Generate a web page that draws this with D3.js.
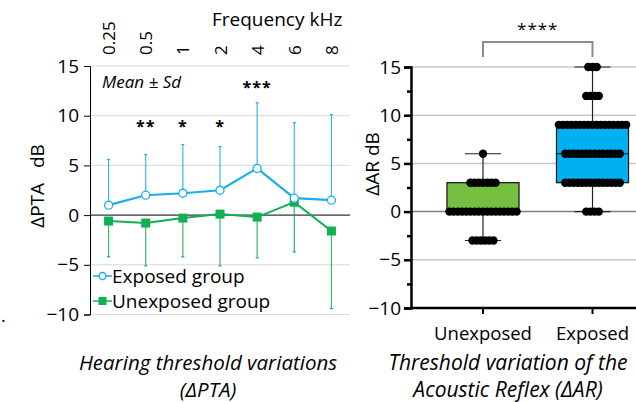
<!DOCTYPE html>
<html>
<head>
<meta charset="utf-8">
<script src="https://cdn.jsdelivr.net/npm/d3@7"></script>
<style>
  body { margin: 0; background: #fff; }
  text { font-family: "Open Sans", sans-serif; fill: #000; }
</style>
</head>
<body>
<div id="chart"></div>
<script>
// Data
var freqs = ["0.25", "0.5", "1", "2", "4", "6", "8"];
var exposedMean = [1.0, 2.0, 2.2, 2.5, 4.7, 1.7, 1.5];
var exposedSd = [4.6, 4.1, 4.9, 4.4, 6.6, 7.6, 8.6];
var unexposedMean = [-0.6, -0.8, -0.3, 0.1, -0.2, 1.3, -1.6];
var unexposedSd = [3.6, 4.3, 3.9, 5.2, 4.1, 5.0, 7.8];
var signif = ["", "**", "*", "*", "***", "", ""];

var groups = ["Unexposed", "Exposed"];
// box stats: [min, q1, median, q3, max]
var boxStats = [[-3, 0, 0, 3, 6], [0, 3, 6, 9, 15]];
// individual AR values (dB)
var unexposedAR = [6, 3, 3, 3, 3, 3, 3, 3,
  0, 0, 0, 0, 0, 0, 0, 0, 0, 0, 0, 0, 0, 0, 0, 0, 0,
  -3, -3, -3, -3, -3, -3];
var exposedAR = [15, 15, 15, 12, 12, 12, 12,
  9, 9, 9, 9, 9, 9, 9, 9, 9, 9, 9, 9, 9, 9, 9, 9, 9,
  6, 6, 6, 6, 6, 6, 6, 6, 6, 6, 6, 6, 6, 6,
  3, 3, 3, 3, 3, 3, 3, 3, 3, 3, 3, 3, 3, 3,
  0, 0, 0, 0];
var yTicks = [-10, -5, 0, 5, 10, 15];

var blue = "#1aaee8";
var green = "#12b050";
var fontFamily = "'Open Sans', sans-serif";

var svg = d3.select("#chart").append("svg")
  .attr("width", 636)
  .attr("height", 402);

// ---------- Left panel: ΔPTA ----------
var left = { x0: 90, x1: 350, top: 66, bottom: 314.5 };

var xPta = d3.scalePoint()
  .domain(freqs)
  .range([left.x0, left.x1])
  .padding(0.5);

var yPta = d3.scaleLinear()
  .domain([-10, 15])
  .range([left.bottom, left.top]);

// gridlines
svg.append("g").selectAll("line")
  .data(yTicks.filter(d => d !== 0))
  .enter().append("line")
  .attr("x1", left.x0).attr("x2", left.x1)
  .attr("y1", d => yPta(d)).attr("y2", d => yPta(d))
  .attr("stroke", "#d9d9d9").attr("stroke-width", 1);

// zero line
svg.append("line")
  .attr("x1", left.x0).attr("x2", left.x1)
  .attr("y1", yPta(0)).attr("y2", yPta(0))
  .attr("stroke", "#000").attr("stroke-width", 1);

// left axis
var leftAxis = svg.append("g")
  .attr("transform", `translate(${left.x0},0)`)
  .call(d3.axisLeft(yPta).tickValues(yTicks).tickSize(6).tickPadding(5));
leftAxis.select(".domain").attr("stroke", "#000");
leftAxis.selectAll("text").style("font-size", "19px").style("font-family", fontFamily);

// top frequency labels
svg.append("g").selectAll("text")
  .data(freqs)
  .enter().append("text")
  .attr("transform", d => `translate(${xPta(d) + 6.5},55) rotate(-90)`)
  .attr("text-anchor", "start")
  .style("font-size", "17px")
  .text(d => d);

svg.append("text")
  .attr("x", 212).attr("y", 26)
  .style("font-size", "19px")
  .text("Frequency kHz");

svg.append("text")
  .attr("transform", `translate(44,186) rotate(-90)`)
  .attr("text-anchor", "middle")
  .style("font-size", "19px")
  .attr("xml:space", "preserve")
  .text("\u0394PTA   dB");

svg.append("text")
  .attr("x", 102).attr("y", 88)
  .style("font-size", "17px").style("font-style", "italic")
  .text("Mean \u00b1 Sd");

// error bars: exposed up, unexposed down
function errorBars(means, sds, dir, color) {
  var g = svg.append("g");
  g.selectAll("line.v")
    .data(freqs)
    .enter().append("line")
    .attr("x1", d => xPta(d)).attr("x2", d => xPta(d))
    .attr("y1", (d, i) => yPta(means[i]))
    .attr("y2", (d, i) => yPta(means[i] + dir * sds[i]))
    .attr("stroke", color).attr("stroke-width", 1.2).attr("opacity", 0.85);
  g.selectAll("line.c")
    .data(freqs)
    .enter().append("line")
    .attr("x1", d => xPta(d) - 1.5).attr("x2", d => xPta(d) + 1.5)
    .attr("y1", (d, i) => yPta(means[i] + dir * sds[i]))
    .attr("y2", (d, i) => yPta(means[i] + dir * sds[i]))
    .attr("stroke", color).attr("stroke-width", 1.2);
}
errorBars(exposedMean, exposedSd, 1, blue);
errorBars(unexposedMean, unexposedSd, -1, green);

var line = d3.line()
  .x((d, i) => xPta(freqs[i]))
  .y(d => yPta(d));

svg.append("path")
  .datum(unexposedMean)
  .attr("d", line)
  .attr("fill", "none").attr("stroke", green).attr("stroke-width", 2);

svg.append("g").selectAll("rect")
  .data(unexposedMean)
  .enter().append("rect")
  .attr("x", (d, i) => xPta(freqs[i]) - 4.5)
  .attr("y", d => yPta(d) - 4.5)
  .attr("width", 9).attr("height", 9)
  .attr("fill", green);

svg.append("path")
  .datum(exposedMean)
  .attr("d", line)
  .attr("fill", "none").attr("stroke", blue).attr("stroke-width", 2.2);

svg.append("g").selectAll("circle")
  .data(exposedMean)
  .enter().append("circle")
  .attr("cx", (d, i) => xPta(freqs[i]))
  .attr("cy", d => yPta(d))
  .attr("r", 4)
  .attr("fill", "#fff").attr("stroke", blue).attr("stroke-width", 1.3);

// significance stars
svg.append("g").selectAll("text")
  .data(signif)
  .enter().append("text")
  .attr("x", (d, i) => xPta(freqs[i]))
  .attr("y", (d, i) => i === 4 ? 93 : 132)
  .attr("text-anchor", "middle")
  .style("font-size", "16px").style("font-weight", "bold")
  .style("letter-spacing", "1px")
  .text(d => d);

// legend
var legend = svg.append("g");
legend.append("line")
  .attr("x1", 93).attr("x2", 112).attr("y1", 276).attr("y2", 276)
  .attr("stroke", blue).attr("stroke-width", 1.5);
legend.append("circle")
  .attr("cx", 102.5).attr("cy", 276).attr("r", 3.5)
  .attr("fill", "#fff").attr("stroke", blue).attr("stroke-width", 1.3);
legend.append("text")
  .attr("x", 112).attr("y", 283)
  .style("font-size", "19px")
  .text("Exposed group");
legend.append("line")
  .attr("x1", 93).attr("x2", 112).attr("y1", 301).attr("y2", 301)
  .attr("stroke", green).attr("stroke-width", 1.5);
legend.append("rect")
  .attr("x", 98.5).attr("y", 297).attr("width", 8).attr("height", 8)
  .attr("fill", green);
legend.append("text")
  .attr("x", 112).attr("y", 308)
  .style("font-size", "19px")
  .text("Unexposed group");

svg.append("text")
  .attr("x", 1).attr("y", 322)
  .style("font-size", "18px")
  .text(".");

// panel titles
svg.append("text")
  .attr("x", 208).attr("y", 370)
  .attr("text-anchor", "middle")
  .style("font-size", "20.5px").style("font-style", "italic")
  .text("Hearing threshold variations");
svg.append("text")
  .attr("x", 208).attr("y", 397)
  .attr("text-anchor", "middle")
  .style("font-size", "20.5px").style("font-style", "italic")
  .text("(\u0394PTA)");

// ---------- Right panel: ΔAR ----------
var right = { x0: 411, x1: 636, top: 67, bottom: 308 };

var xAr = d3.scaleBand()
  .domain(groups)
  .range([409.5, 666])
  .padding(0.342);

var yAr = d3.scaleLinear()
  .domain([-10, 15])
  .range([right.bottom, right.top]);

svg.append("g").selectAll("line")
  .data(yTicks.filter(d => d !== -10))
  .enter().append("line")
  .attr("x1", right.x0).attr("x2", right.x1)
  .attr("y1", d => yAr(d)).attr("y2", d => yAr(d))
  .attr("stroke", d => d === 0 ? "#808080" : "#c8c8c8").attr("stroke-width", 1.5);

// whiskers
var boxG = svg.append("g");
var boxFill = ["#75bf43", "#00b0f0"];
groups.forEach(function(grp, gi) {
  var s = boxStats[gi];
  var cx = xAr(grp) + xAr.bandwidth() / 2;
  var bw = xAr.bandwidth();
  boxG.append("line")
    .attr("x1", cx).attr("x2", cx)
    .attr("y1", yAr(s[0])).attr("y2", yAr(s[4]))
    .attr("stroke", "#222").attr("stroke-width", 1.2);
  [s[0], s[4]].forEach(function(v) {
    boxG.append("line")
      .attr("x1", cx - bw / 4).attr("x2", cx + bw / 4)
      .attr("y1", yAr(v)).attr("y2", yAr(v))
      .attr("stroke", "#222").attr("stroke-width", 1.2);
  });
  boxG.append("rect")
    .attr("x", xAr(grp)).attr("y", yAr(s[3]))
    .attr("width", bw).attr("height", yAr(s[1]) - yAr(s[3]))
    .attr("fill", boxFill[gi]).attr("stroke", "#111").attr("stroke-width", 1.2);
  boxG.append("line")
    .attr("x1", xAr(grp)).attr("x2", xAr(grp) + bw)
    .attr("y1", yAr(s[2])).attr("y2", yAr(s[2]))
    .attr("stroke", "#111").attr("stroke-width", 1.2);
});

// dots, spread horizontally by value
var dotStep = 4.2;
[unexposedAR, exposedAR].forEach(function(vals, gi) {
  var cx = xAr(groups[gi]) + xAr.bandwidth() / 2;
  var counts = d3.rollup(vals, v => v.length, d => d);
  var pts = [];
  counts.forEach(function(n, v) {
    for (var k = 0; k < n; k++) {
      pts.push({ v: v, off: (k - (n - 1) / 2) * dotStep });
    }
  });
  svg.append("g").selectAll("circle")
    .data(pts)
    .enter().append("circle")
    .attr("cx", d => cx + d.off)
    .attr("cy", d => yAr(d.v))
    .attr("r", 4.2)
    .attr("fill", "#000");
});

// axes
var arAxis = svg.append("g")
  .attr("transform", `translate(${right.x0},0)`)
  .call(d3.axisLeft(yAr).tickValues(yTicks).tickSize(7).tickPadding(3));
arAxis.select(".domain").attr("stroke-width", 2.5);
arAxis.selectAll(".tick line").attr("stroke-width", 2.5);
arAxis.selectAll("text").style("font-size", "19px").style("font-family", fontFamily);

svg.append("g")
  .attr("transform", `translate(${right.x0},0)`)
  .call(d3.axisLeft(yAr).tickValues([-7.5, -2.5, 2.5, 7.5, 12.5]).tickSize(4).tickFormat(""))
  .call(g => g.select(".domain").remove())
  .selectAll("line").attr("stroke-width", 2.5);

var arX = svg.append("g")
  .attr("transform", `translate(0,${right.bottom})`)
  .call(d3.axisBottom(xAr).tickSize(6).tickPadding(13));
arX.select(".domain").attr("d", `M${right.x0 - 1},0H${right.x1}`).attr("stroke-width", 2.5);
arX.selectAll(".tick line").attr("stroke-width", 2);
arX.selectAll("text").style("font-size", "18.5px").style("font-family", fontFamily);

svg.append("text")
  .attr("transform", `translate(379,164) rotate(-90)`)
  .attr("text-anchor", "middle")
  .style("font-size", "19px")
  .text("\u0394AR dB");

// significance bracket
var c0 = xAr("Unexposed") + xAr.bandwidth() / 2;
var c1 = xAr("Exposed") + xAr.bandwidth() / 2;
svg.append("path")
  .attr("d", `M${c0},57V42H${c1}V57`)
  .attr("fill", "none").attr("stroke", "#8c8c8c").attr("stroke-width", 2);
svg.append("text")
  .attr("x", (c0 + c1) / 2).attr("y", 35)
  .attr("text-anchor", "middle")
  .style("font-size", "17px").style("letter-spacing", "1px")
  .text("****");

svg.append("text")
  .attr("x", 508).attr("y", 370)
  .attr("text-anchor", "middle")
  .style("font-size", "21px").style("font-style", "italic")
  .text("Threshold variation of the");
svg.append("text")
  .attr("x", 508).attr("y", 397)
  .attr("text-anchor", "middle")
  .style("font-size", "21px").style("font-style", "italic")
  .text("Acoustic Reflex (\u0394AR)");
</script>
</body>
</html>
